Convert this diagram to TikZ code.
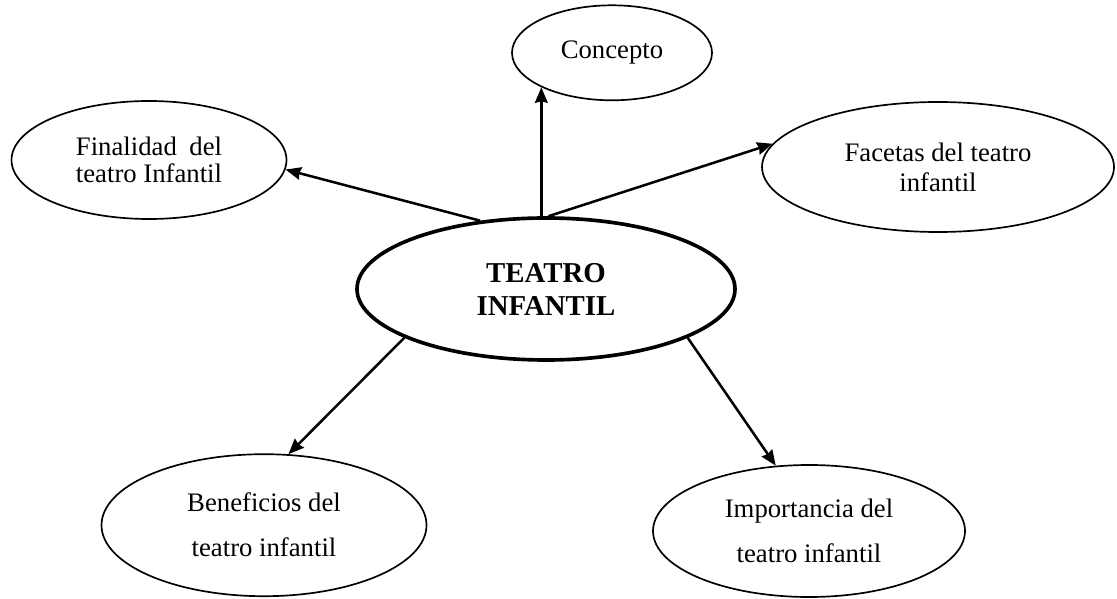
\documentclass[tikz,border=0pt]{standalone}
\usepackage{fontspec}
\setmainfont{Liberation Serif}
\usepackage{calc}
\usetikzlibrary{arrows.meta,shapes}

\begin{document}
\begin{tikzpicture}[>={Stealth[length=11pt,width=9pt,inset=1pt]},scale=1,
tema/.style={ellipse, draw, line width=2.6pt, align=center, inner sep=0pt, minimum width=9.45cm, minimum height=3.55cm, font=\fontsize{20.5}{23.5}\selectfont\bfseries},
subtema/.style={ellipse, draw, line width=1.2pt, align=center, inner sep=0pt},
flecha/.style={->, line width=1.8pt}]
\useasboundingbox (0,0) rectangle (27.925,14.95);

\draw (13.65,7.725) node[tema] (TI) {TEATRO\\INFANTIL};
\draw (15.3,13.63) node[subtema, minimum width=5cm, minimum height=2.375cm, font=\fontsize{19}{21}\selectfont] (CO) {Concepto};
\draw (3.725,10.95) node[subtema, minimum width=6.875cm, minimum height=2.95cm, font=\fontsize{19}{19.5}\selectfont] (FI) {\makebox[\widthof{teatro Infantil}][s]{Finalidad\hfill del}\\teatro Infantil};
\draw (23.45,10.775) node[subtema, minimum width=8.8cm, minimum height=3.25cm, font=\fontsize{19}{21.5}\selectfont] (FA) {Facetas del teatro\\infantil};
\draw (6.6,1.82) node[subtema, minimum width=8.125cm, minimum height=3.55cm, font=\fontsize{19}{32}\selectfont] (BE) {Beneficios del\\teatro infantil};
\draw (20.225,1.675) node[subtema, minimum width=7.8cm, minimum height=3.3cm, font=\fontsize{19}{32}\selectfont] (IM) {Importancia del\\teatro infantil};

\draw[flecha] (CO.206 |- TI.north)--(CO.206);
\draw[flecha] (TI.134)--(FI.-4);
\draw[flecha] (TI.88)--(FA.172);
\draw[flecha] (TI.199)--(BE.71);
\draw[flecha] (TI.341)--(IM.117);
\end{tikzpicture}
\end{document}
